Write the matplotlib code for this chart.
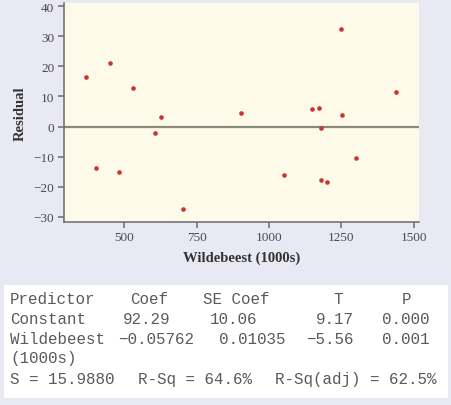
import matplotlib
matplotlib.use("Agg")
import matplotlib.pyplot as plt
from matplotlib.patches import Rectangle

# residual plot data
wildebeest = [367, 402, 451, 483, 530, 605, 627, 702, 904, 1051,
              1148, 1173, 1179, 1179, 1200, 1248, 1252, 1299, 1438]
residual = [16.3, -13.6, 21.0, -15.0, 12.7, -2.1, 3.2, -27.2, 4.5, -16.0,
            5.7, 6.0, -0.6, -17.6, -18.3, 32.4, 3.7, -10.4, 11.4]

x_ticks = [500, 750, 1000, 1250, 1500]
y_ticks = [-30, -20, -10, 0, 10, 20, 30, 40]

# regression output table
header = ["Predictor", "Coef", "SE Coef", "T", "P"]
row_const = ["Constant", "92.29", "10.06", "9.17", "0.000"]
row_wild = ["Wildebeest", "\u22120.05762", "0.01035", "\u22125.56", "0.001"]
row_unit = ["(1000s)"]
summary = ["S = 15.9880", "R-Sq = 64.6%", "R-Sq(adj) = 62.5%"]

W, H = 452, 406
fig = plt.figure(figsize=(W / 100, H / 100), dpi=100)
fig.patch.set_facecolor("#e9e9f3")

def px(x, y):
    return x / W, 1 - y / H

ax = fig.add_axes([64 / W, 1 - 222.5 / H, (419 - 64) / W, (222.5 - 4) / H])
ax.set_facecolor("#fefae9")
ax.axhline(0, color="#8a8a7a", lw=1.6, zorder=1)
ax.scatter(wildebeest, residual, s=11, color="#cc3333", zorder=3, linewidths=0)
ax.set_xlim(292, 1518)
ax.set_ylim(-31.5, 41)
ax.set_xticks(x_ticks)
ax.set_yticks(y_ticks)
ax.set_yticklabels([str(t).replace("-", "\u2212") for t in y_ticks])
for s in ["top", "right"]:
    ax.spines[s].set_visible(False)
for s in ["left", "bottom"]:
    ax.spines[s].set_color("#6a6a6a")
    ax.spines[s].set_linewidth(1.1)
ax.tick_params(length=4, width=1.1, color="#6a6a6a", labelsize=9.5,
               labelcolor="#4a4a4a", pad=3)
for lab in ax.get_xticklabels() + ax.get_yticklabels():
    lab.set_fontfamily("Liberation Serif")
ax.set_xlabel("Wildebeest (1000s)", fontfamily="Liberation Serif",
              fontweight="bold", fontsize=10.5, color="#333333", labelpad=5)
ax.set_ylabel("Residual", fontfamily="Liberation Serif",
              fontweight="bold", fontsize=10.5, color="#333333", labelpad=5)

# white box with the regression table
x0, y0 = px(4, 399)
x1, y1 = px(448, 286)
fig.patches.append(Rectangle((x0, y0), x1 - x0, y1 - y0, transform=fig.transFigure,
                             facecolor="white", edgecolor="none", zorder=0))

mono = ["Liberation Mono", "DejaVu Sans Mono"]
rows = [
    (header, [10, 130, 203, 333, 402], 300),
    (row_const, [10, 123, 210, 316, 382], 320),
    (row_wild, [10, 118, 219, 306, 382], 340),
    (row_unit, [10], 359),
    (summary, [10, 138, 275], 380),
]
for cells, xs, y in rows:
    for txt, x in zip(cells, xs):
        fx, fy = px(x, y)
        fig.text(fx, fy, txt, family=mono, fontsize=11.4, color="#5a5a5a",
                 ha="left", va="center")

fig.savefig("out.png", dpi=100, facecolor=fig.get_facecolor())
